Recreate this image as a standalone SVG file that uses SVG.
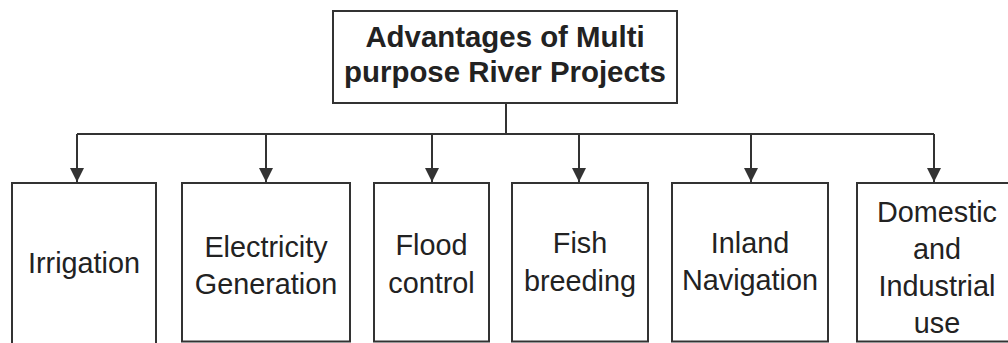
<svg xmlns="http://www.w3.org/2000/svg" width="1008" height="343" viewBox="0 0 1008 343">
<style>
.box{fill:#fff;stroke:#333;stroke-width:2}
.ln{fill:none;stroke:#333;stroke-width:2}
.t{font-family:"Liberation Sans",Arial,sans-serif;font-size:28.8px;fill:#222;text-anchor:middle}
.tb{font-weight:bold;font-size:29.4px}
</style>
<defs>
<marker id="ah" markerUnits="userSpaceOnUse" markerWidth="14" markerHeight="14" refX="14" refY="7" orient="auto">
<path d="M0,0 L14,7 L0,14 Z" fill="#333"/>
</marker>
</defs>
<rect width="1008" height="343" fill="#fff"/>
<g id="connectors">
<path class="ln" d="M506,103 V134"/>
<path class="ln" d="M77,134 H934"/>
<path class="ln" d="M77,134 V182" marker-end="url(#ah)"/>
<path class="ln" d="M266,134 V182" marker-end="url(#ah)"/>
<path class="ln" d="M432,134 V182" marker-end="url(#ah)"/>
<path class="ln" d="M579,134 V182" marker-end="url(#ah)"/>
<path class="ln" d="M751,134 V182" marker-end="url(#ah)"/>
<path class="ln" d="M934,134 V182" marker-end="url(#ah)"/>
</g>
<g id="root">
<rect class="box" x="333" y="11" width="344" height="92"/>
<text class="t tb" x="505" y="47">Advantages of Multi</text>
<text class="t tb" x="505" y="82">purpose River Projects</text>
</g>
<g id="irrigation">
<rect class="box" x="12" y="183" width="144" height="165"/>
<text class="t" x="84" y="273">Irrigation</text>
</g>
<g id="electricity">
<rect class="box" x="182" y="183" width="168" height="158.5"/>
<text class="t" x="266" y="257">Electricity</text>
<text class="t" x="266" y="294">Generation</text>
</g>
<g id="flood">
<rect class="box" x="374" y="183" width="115" height="158.5"/>
<text class="t" x="431.5" y="255">Flood</text>
<text class="t" x="431.5" y="293">control</text>
</g>
<g id="fish">
<rect class="box" x="512" y="183" width="136" height="158.5"/>
<text class="t" x="580" y="253">Fish</text>
<text class="t" x="580" y="291">breeding</text>
</g>
<g id="inland">
<rect class="box" x="672" y="183" width="156" height="158.5"/>
<text class="t" x="750" y="253">Inland</text>
<text class="t" x="750" y="290">Navigation</text>
</g>
<g id="domestic">
<rect class="box" x="857" y="183" width="155" height="158.5"/>
<text class="t" x="937" y="222">Domestic</text>
<text class="t" x="937" y="259">and</text>
<text class="t" x="937" y="296">Industrial</text>
<text class="t" x="937" y="333">use</text>
</g>
</svg>
